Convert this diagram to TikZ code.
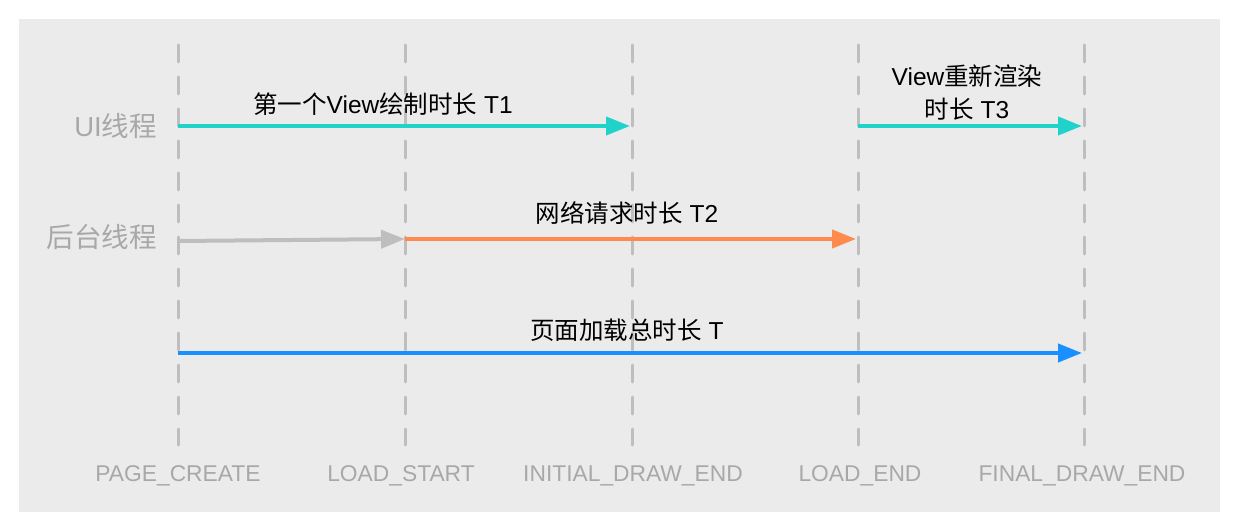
\documentclass[tikz,border=0pt]{standalone}
\usepackage{fontspec}
\setmainfont{Liberation Sans}
\newfontfamily\cjk{Noto Sans CJK SC}
\usetikzlibrary{arrows.meta}

\definecolor{bggray}{HTML}{EBEBEB}
\definecolor{linegray}{HTML}{BEBEBE}
\definecolor{labelgray}{HTML}{A8A8A8}
\definecolor{uicolor}{HTML}{1FD3CB}
\definecolor{netcolor}{HTML}{FF8A4E}
\definecolor{totalcolor}{HTML}{1A8FFF}

\begin{document}
\begin{tikzpicture}[x=1pt,y=-1pt,>={Triangle[length=24pt,width=18pt]},
    mark line/.style={draw=linegray,line width=3pt,line cap=round,dash pattern=on 17pt off 15pt},
    stage/.style={text=labelgray,font=\fontsize{22.8}{27}\selectfont},
    thread/.style={text=labelgray,anchor=east,inner sep=0pt,font=\fontsize{27.5}{32}\selectfont},
    span/.style={font=\fontsize{24.5}{33}\selectfont,align=center,inner sep=0pt},
    timing/.style={->,line width=4pt}]

\useasboundingbox (0,0) rectangle (1240,532);
\fill[bggray] (19,19) rectangle (1220,512);

% time marks
\coordinate (pc) at (178,45);
\coordinate (ls) at (405,45);
\coordinate (ide) at (632,45);
\coordinate (le) at (858,45);
\coordinate (fde) at (1084,45);

% rows
\coordinate (ui) at (0,126);
\coordinate (bg) at (0,239);
\coordinate (total) at (0,353);

\draw[mark line] (pc) -- ++(0,400);
\draw[mark line] (ls) -- ++(0,400);
\draw[mark line] (ide) -- ++(0,400);
\draw[mark line] (le) -- ++(0,400);
\draw[mark line] (fde) -- ++(0,400);

\node[stage] (pc label) at (178,476) {PAGE\_CREATE};
\node[stage] (ls label) at (401,476) {LOAD\_START};
\node[stage] (ide label) at (633,476) {INITIAL\_DRAW\_END};
\node[stage] (le label) at (860,476) {LOAD\_END};
\node[stage] (fde label) at (1082,476) {FINAL\_DRAW\_END};

\node[thread] (ui thread) at (157,126) {UI{\cjk 线程}};
\node[thread] (bg thread) at (157,237) {\cjk 后台线程};

\draw[timing,uicolor] (pc |- ui) -- ([xshift=-2pt]ide |- ui);
\draw[timing,linegray] ([yshift=-2pt]pc |- bg) -- (ls |- bg);
\draw[timing,netcolor] (ls |- bg) -- ([xshift=-2pt]le |- bg);
\draw[timing,uicolor] (le |- ui) -- ([xshift=-2pt]fde |- ui);
\draw[timing,totalcolor] (pc |- total) -- ([xshift=-2pt]fde |- total);

\node[span] (t1) at (383,104) {{\cjk 第一个}View{\cjk 绘制时长} T1};
\node[span] (t2) at (627,213) {{\cjk 网络请求时长} T2};
\node[span] (t3) at (967,93) {View{\cjk 重新渲染}\\{\cjk 时长} T3};
\node[span] (t) at (627,330) {{\cjk 页面加载总时长} T};

\end{tikzpicture}
\end{document}
